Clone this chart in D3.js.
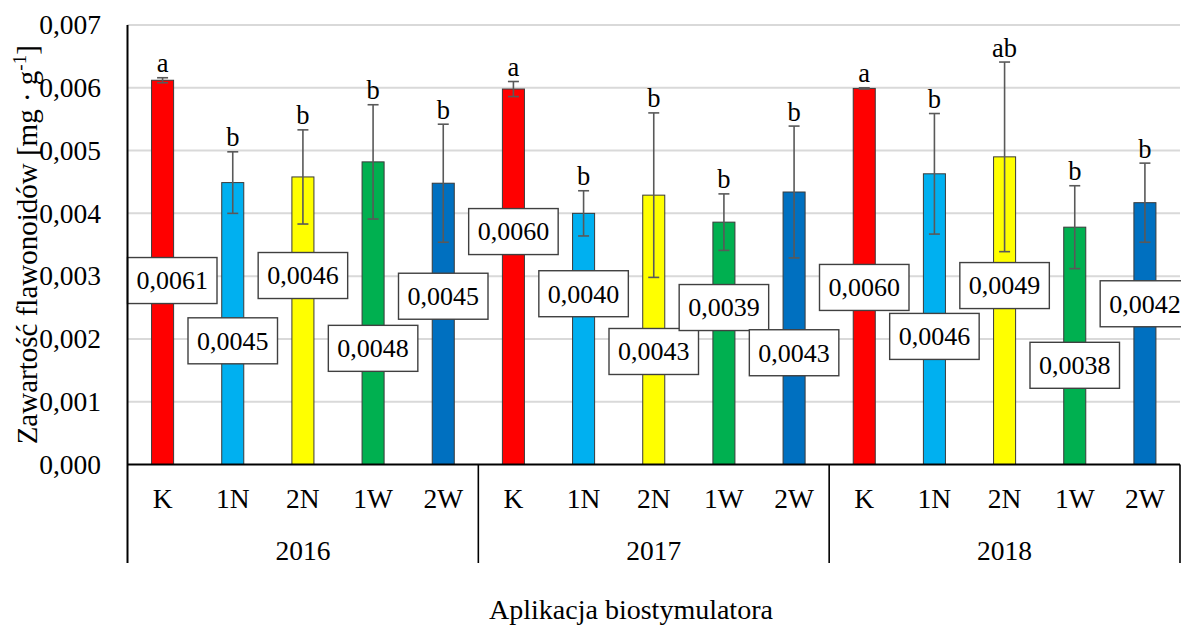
<!DOCTYPE html>
<html>
<head>
<meta charset="utf-8">
<script src="https://cdn.jsdelivr.net/npm/d3@7"></script>
<style>
  html, body { margin: 0; padding: 0; background: #ffffff; }
  svg { display: block; }
  svg text { font-family: "Liberation Serif", "Times New Roman", Times, serif; }
</style>
</head>
<body>
<svg id="chart" width="1181" height="625"></svg>
<script>
// Flavonoid content per year and biostimulant treatment
const years = ["2016", "2017", "2018"];
const treatments = ["K", "1N", "2N", "1W", "2W"];
const treatmentColors = ["#ff0000", "#00b0f0", "#ffff00", "#00b050", "#0070c0"];

const flav2016 = [0.00612, 0.00449, 0.00458, 0.00482, 0.00448];
const flav2017 = [0.00598, 0.00400, 0.00429, 0.00386, 0.00434];
const flav2018 = [0.00599, 0.00463, 0.00490, 0.00378, 0.00417];

// Standard deviation (error bars)
const sd2016 = [0.00004, 0.00049, 0.00075, 0.00091, 0.00094];
const sd2017 = [0.00012, 0.00036, 0.00131, 0.00045, 0.00105];
const sd2018 = [0.00001, 0.00096, 0.00151, 0.00066, 0.00063];

// Homogeneous groups
const letters2016 = ["a", "b", "b", "b", "b"];
const letters2017 = ["a", "b", "b", "b", "b"];
const letters2018 = ["a", "b", "ab", "b", "b"];

// Height (in axis units) at which each value label is placed
const labelAt2016 = [0.00293, 0.00197, 0.00301, 0.00185, 0.00268];
const labelAt2017 = [0.00371, 0.00272, 0.00180, 0.00250, 0.00178];
const labelAt2018 = [0.00282, 0.00204, 0.00285, 0.00158, 0.00256];

const yTicks = [0, 0.001, 0.002, 0.003, 0.004, 0.005, 0.006, 0.007];

const flavByYear = [flav2016, flav2017, flav2018];
const sdByYear = [sd2016, sd2017, sd2018];
const lettersByYear = [letters2016, letters2017, letters2018];
const labelAtByYear = [labelAt2016, labelAt2017, labelAt2018];

const rows = [];
years.forEach((yr, gi) => {
  treatments.forEach((t, ti) => {
    rows.push({
      year: yr, treatment: t, color: treatmentColors[ti],
      value: flavByYear[gi][ti], sd: sdByYear[gi][ti],
      letter: lettersByYear[gi][ti], labelAt: labelAtByYear[gi][ti]
    });
  });
});

const svg = d3.select("#chart");
const plotLeft = 127.5, plotRight = 1180, plotTop = 25, plotBottom = 464.5;

const y = d3.scaleLinear().domain([0, 0.007]).range([plotBottom, plotTop]);
const xGroup = d3.scaleBand().domain(years).range([plotLeft, plotRight]).padding(0);
const xInner = d3.scaleBand().domain(treatments).range([0, xGroup.bandwidth()]).padding(0);
const barW = xInner.bandwidth() * 0.314;
const cx = d => xGroup(d.year) + xInner(d.treatment) + xInner.bandwidth() / 2;
const fmt = v => d3.format(".4f")(v).replace(".", ",");

// Gridlines
svg.append("g").selectAll("line")
  .data(yTicks.filter(v => v > 0))
  .join("line")
  .attr("x1", plotLeft).attr("x2", plotRight)
  .attr("y1", d => y(d)).attr("y2", d => y(d))
  .attr("stroke", "#d9d9d9").attr("stroke-width", 2);

// Y tick labels
svg.append("g").selectAll("text")
  .data(yTicks)
  .join("text")
  .attr("x", 101).attr("y", d => y(d))
  .attr("dy", "0.34em")
  .attr("text-anchor", "end")
  .attr("font-size", 27.5)
  .attr("fill", "#000")
  .text(d => d3.format(".3f")(d).replace(".", ","));

// Bars
svg.append("g").selectAll("rect")
  .data(rows)
  .join("rect")
  .attr("x", d => cx(d) - barW / 2)
  .attr("width", barW)
  .attr("y", d => y(d.value))
  .attr("height", d => y(0) - y(d.value))
  .attr("fill", d => d.color)
  .attr("stroke", "#3a3a3a").attr("stroke-width", 1);

// Error bars
const eb = svg.append("g").attr("stroke", "#595959").attr("stroke-width", 1.6).attr("fill", "none");
eb.selectAll("line.v").data(rows).join("line").attr("class", "v")
  .attr("x1", cx).attr("x2", cx)
  .attr("y1", d => y(d.value + d.sd)).attr("y2", d => y(d.value - d.sd));
eb.selectAll("line.t").data(rows).join("line").attr("class", "t")
  .attr("x1", d => cx(d) - 5.5).attr("x2", d => cx(d) + 5.5)
  .attr("y1", d => y(d.value + d.sd)).attr("y2", d => y(d.value + d.sd));
eb.selectAll("line.b").data(rows).join("line").attr("class", "b")
  .attr("x1", d => cx(d) - 5.5).attr("x2", d => cx(d) + 5.5)
  .attr("y1", d => y(d.value - d.sd)).attr("y2", d => y(d.value - d.sd));

// Significance letters
svg.append("g").selectAll("text")
  .data(rows)
  .join("text")
  .attr("x", cx)
  .attr("y", d => y(d.value + d.sd) - 5.5)
  .attr("text-anchor", "middle")
  .attr("font-size", 26.5)
  .attr("fill", "#000")
  .text(d => d.letter);

// Value labels in boxes
const lab = svg.append("g").selectAll("g")
  .data(rows)
  .join("g");
lab.append("rect").attr("class", "box");
lab.append("text")
  .attr("font-size", 26)
  .attr("fill", "#000")
  .attr("text-anchor", "middle")
  .attr("dy", "0.34em")
  .text(d => fmt(d.value));
lab.each(function (d) {
  const g = d3.select(this);
  const tw = g.select("text").node().getComputedTextLength();
  const bw = tw + 18, bh = 46;
  let c = cx(d);
  if (c - bw / 2 < plotLeft) c = plotLeft + bw / 2;
  const cy = y(d.labelAt);
  g.select("rect")
    .attr("x", c - bw / 2).attr("y", cy - bh / 2)
    .attr("width", bw).attr("height", bh)
    .attr("fill", "#ffffff").attr("stroke", "#404040").attr("stroke-width", 1.4);
  g.select("text").attr("x", c).attr("y", cy);
});

// Axis lines and group separators
svg.append("line")
  .attr("x1", plotLeft).attr("x2", plotRight).attr("y1", plotBottom).attr("y2", plotBottom)
  .attr("stroke", "#000").attr("stroke-width", 2);
svg.append("line")
  .attr("x1", plotLeft).attr("x2", plotLeft).attr("y1", plotTop).attr("y2", 563)
  .attr("stroke", "#000").attr("stroke-width", 2);
svg.append("g").selectAll("line")
  .data(years)
  .join("line")
  .attr("x1", d => xGroup(d) + xGroup.bandwidth()).attr("x2", d => xGroup(d) + xGroup.bandwidth())
  .attr("y1", plotBottom).attr("y2", 563)
  .attr("stroke", "#000").attr("stroke-width", 1.6);

// Category labels
svg.append("g").selectAll("text")
  .data(rows)
  .join("text")
  .attr("x", cx).attr("y", 508)
  .attr("text-anchor", "middle")
  .attr("font-size", 27.5)
  .attr("fill", "#000")
  .text(d => d.treatment);

// Year labels
svg.append("g").selectAll("text")
  .data(years)
  .join("text")
  .attr("x", d => xGroup(d) + xGroup.bandwidth() / 2).attr("y", 560)
  .attr("text-anchor", "middle")
  .attr("font-size", 27.5)
  .attr("fill", "#000")
  .text(d => d);

// Axis titles
svg.append("text")
  .attr("x", 631).attr("y", 619)
  .attr("text-anchor", "middle")
  .attr("font-size", 28)
  .attr("fill", "#000")
  .text("Aplikacja biostymulatora");

const yt = svg.append("text")
  .attr("transform", `translate(37,${(plotTop + plotBottom) / 2}) rotate(-90)`)
  .attr("text-anchor", "middle")
  .attr("font-size", 29)
  .attr("fill", "#000");
yt.append("tspan").text("Zawartość flawonoidów [mg · g");
yt.append("tspan").attr("font-size", 19).attr("dy", -11).text("-1");
yt.append("tspan").attr("dy", 11).text("]");
</script>
</body>
</html>
